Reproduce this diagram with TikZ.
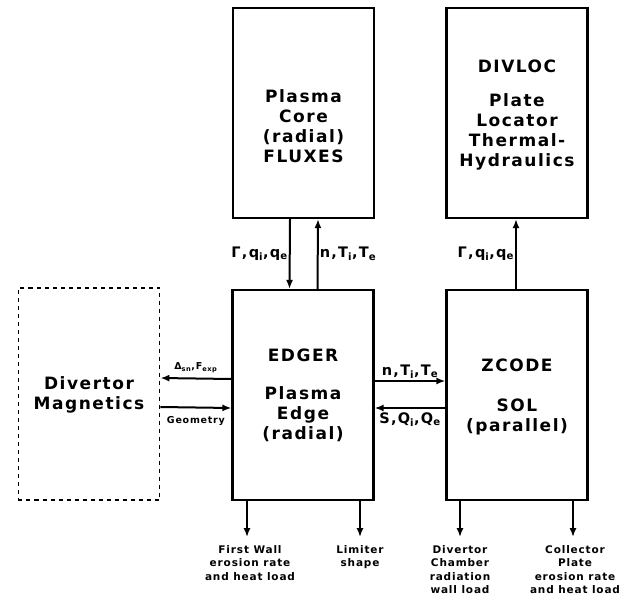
\documentclass[tikz,border=0pt]{standalone}
\usepackage{fontspec}
\setmainfont{DejaVu Sans}[BoldFont={DejaVu Sans Bold}]
\newfontfamily\boxfont[LetterSpace=9]{DejaVu Sans Bold}
\newfontfamily\smallfont[LetterSpace=8]{DejaVu Sans Bold}
\usetikzlibrary{arrows.meta}
\begin{document}
\begin{tikzpicture}[x=1bp,y=-1bp,
  blk/.style={draw,line width=2.2bp,minimum width=141bp,minimum height=210bp,inner sep=0pt},
  dblk/.style={blk,line width=1.8bp,dash pattern=on 4bp off 4bp},
  arr/.style={line width=2bp,-{Latex[length=9bp,width=7bp]}},
  intxt/.style={font=\boxfont\fontsize{17bp}{20bp}\selectfont,align=center},
  lbl/.style={font=\boxfont\fontsize{14.5bp}{16bp}\selectfont,inner sep=1bp},
  tiny/.style={font=\smallfont\fontsize{9.5bp}{10bp}\selectfont,inner sep=1bp},
  outl/.style={font=\smallfont\fontsize{10.5bp}{13.5bp}\selectfont,align=center,anchor=north,inner sep=1bp}]
\useasboundingbox (0,0) rectangle (635,605);
% boxes
\node[blk] (core) at (303.5,113) {};
\node[blk] (divloc) at (517,113) {};
\node[blk] (edger) at (303,395) {};
\node[blk] (zcode) at (517,395) {};
\node[dblk,minimum height=212bp] (dm) at (89,394) {};
% texts
\node[intxt] (coretxt) at (303.5,126) {Plasma\\Core\\(radial)\\FLUXES};
\node[intxt] (divloctxt) at (517,115) {DIVLOC\\[14bp]Plate\\Locator\\Thermal-\\Hydraulics};
\node[intxt] (edgertxt) at (303,395) {EDGER\\[18bp]Plasma\\Edge\\(radial)};
\node[intxt] (zcodetxt) at (517,397) {ZCODE\\[20bp]SOL\\(parallel)};
\node[intxt] (dmtxt) at (89,395) {Divertor\\Magnetics};
% vertical arrows
\draw[arr] ([xshift=-13.5bp]core.south) -- ([xshift=-13.5bp]edger.north)
  node[lbl,midway,left] (l1) {Γ,q\textsubscript{i},q\textsubscript{e}};
\draw[arr] ([xshift=14.5bp]edger.north) -- ([xshift=14.5bp]core.south)
  node[lbl,midway,right] (l2) {n,T\textsubscript{i},T\textsubscript{e}};
\draw[arr] ([xshift=-1bp]zcode.north) -- ([xshift=-1bp]divloc.south)
  node[lbl,midway,left] (l3) {Γ,q\textsubscript{i},q\textsubscript{e}};
% horizontal arrows edger-zcode
\draw[arr] ([yshift=14bp]edger.east) -- ([yshift=14bp]zcode.west)
  node[lbl,midway,above=1bp] (l4) {n,T\textsubscript{i},T\textsubscript{e}};
\draw[arr] ([yshift=-13bp]zcode.west) -- ([yshift=-13bp]edger.east)
  node[lbl,midway,below=3bp] (l5) {S,Q\textsubscript{i},Q\textsubscript{e}};
% horizontal arrows edger-dm
\draw[arr] ([yshift=16bp]edger.west) -- ([yshift=16bp]dm.east)
  node[tiny,midway,above=4bp] (l6) {Δ\textsubscript{sn},F\textsubscript{exp}};
\draw[arr] ([yshift=-13bp]dm.east) -- ([yshift=-13bp]edger.west)
  node[tiny,midway,below=7bp] (l7) {Geometry};
% outputs
\coordinate (o1) at ([xshift=-56bp,yshift=-36bp]edger.south);
\coordinate (o2) at ([xshift=57bp,yshift=-36bp]edger.south);
\coordinate (o3) at ([xshift=-57bp,yshift=-36bp]zcode.south);
\coordinate (o4) at ([xshift=56bp,yshift=-36bp]zcode.south);
\draw[arr] ([xshift=-56bp]edger.south) -- (o1);
\draw[arr] ([xshift=57bp]edger.south) -- (o2);
\draw[arr] ([xshift=-57bp]zcode.south) -- (o3);
\draw[arr] ([xshift=56bp]zcode.south) -- (o4);
\node[outl] (t1) at ([xshift=3bp,yshift=-7bp]o1) {First Wall\\erosion rate\\and heat load};
\node[outl] (t2) at ([yshift=-7bp]o2) {Limiter\\shape};
\node[outl] (t3) at ([yshift=-7bp]o3) {Divertor\\Chamber\\radiation\\wall load};
\node[outl] (t4) at ([xshift=2bp,yshift=-7bp]o4) {Collector\\Plate\\erosion rate\\and heat load};
\end{tikzpicture}
\end{document}
